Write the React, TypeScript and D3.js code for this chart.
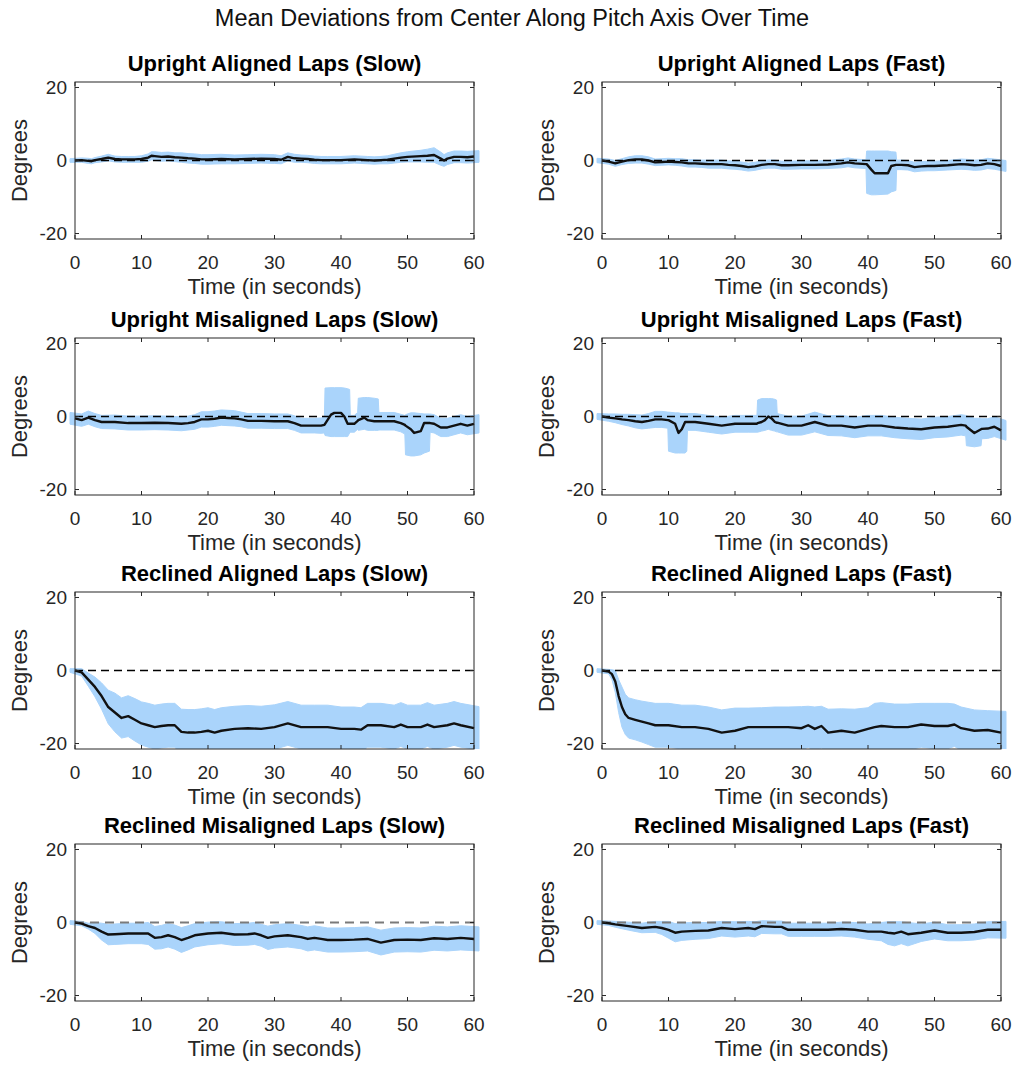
import React from "react";
import * as d3 from "d3";

// [time (s), mean (deg), band low (deg), band high (deg)]
const uprightAlignedSlow = [
  [0, 0, -0.5, 0.5], [1, 0.1, -0.5, 0.7], [2, -0.1, -0.8, 0.6], [2.5, -0.2, -0.9, 0.5], [3, 0.1, -0.6, 0.8],
  [4, 0.4, -0.4, 1.2], [5, 0.8, -0.1, 1.7], [6, 0.4, -0.4, 1.2], [7, 0.3, -0.5, 1.1], [8, 0.3, -0.5, 1.1],
  [9, 0.3, -0.5, 1.1], [10, 0.4, -0.5, 1.3], [11, 0.8, -0.2, 1.8], [11.5, 1.3, 0.2, 2.4], [12, 1.2, 0, 2.4],
  [13, 1.0, -0.2, 2.2], [14, 1.1, -0.1, 2.3], [15, 0.9, -0.3, 2.1], [16, 0.8, -0.5, 2.1], [17, 0.6, -0.7, 1.9],
  [18, 0.5, -0.8, 1.8], [19, 0.3, -1.0, 1.6], [20, 0.3, -1.0, 1.6], [22, 0.4, -0.9, 1.7], [24, 0.3, -0.9, 1.5],
  [26, 0.4, -0.8, 1.6], [28, 0.5, -0.7, 1.7], [30, 0.4, -0.8, 1.6], [31, 0.2, -0.9, 1.3], [32, 1.0, -0.1, 2.1],
  [33, 0.6, -0.5, 1.7], [34, 0.5, -0.5, 1.5], [35, 0.4, -0.6, 1.4], [36, 0.2, -0.8, 1.2], [37, 0.1, -0.9, 1.1],
  [38, 0.1, -0.9, 1.1], [40, 0.1, -0.9, 1.1], [42, 0.3, -0.7, 1.3], [44, 0.1, -0.9, 1.1], [45, 0, -1.0, 1.0],
  [46, 0.1, -0.9, 1.1], [47, 0.2, -0.9, 1.3], [48, 0.5, -0.7, 1.7], [49, 0.8, -0.5, 2.1], [50, 1.0, -0.4, 2.4],
  [52, 1.2, -0.4, 2.8], [53, 1.3, -0.5, 3.1], [54, 1.5, -0.5, 3.5], [55, 0.5, -1.3, 2.3], [55.5, 0, -1.6, 1.6],
  [56, 0.5, -1.1, 2.1], [57, 1.0, -0.6, 2.6], [58, 1.0, -0.6, 2.6], [59, 0.9, -0.7, 2.5], [60, 1.1, -0.5, 2.7],
];

const uprightAlignedFast = [
  [0, 0, -0.6, 0.6], [1, -0.3, -1.0, 0.4], [2, -0.8, -1.6, 0], [3, -0.3, -1.1, 0.5], [4, 0.1, -0.8, 1.0],
  [5, 0.3, -0.7, 1.3], [6, 0.3, -0.7, 1.3], [7, 0, -1.0, 1.0], [8, -0.5, -1.4, 0.4], [9, -0.4, -1.3, 0.5],
  [10, -0.3, -1.2, 0.6], [11, -0.4, -1.3, 0.5], [12, -0.5, -1.5, 0.5], [13, -0.8, -1.8, 0.2], [14, -0.8, -1.8, 0.2],
  [15, -0.9, -1.9, 0.1], [16, -1.0, -2.1, 0.1], [18, -1.0, -2.1, 0.1], [19, -1.2, -2.3, -0.1], [20, -1.3, -2.4, -0.2],
  [21, -1.5, -2.6, -0.4], [22, -1.8, -2.9, -0.7], [23, -1.6, -2.7, -0.5], [24, -1.2, -2.3, -0.1], [25, -1.0, -2.1, 0.1],
  [26, -1.0, -2.1, 0.1], [27, -1.3, -2.4, -0.2], [28, -1.3, -2.4, -0.2], [30, -1.2, -2.3, -0.1], [32, -1.2, -2.3, -0.1],
  [34, -1.1, -2.2, 0], [36, -0.8, -2.0, 0.4], [37, -0.5, -1.7, 0.7], [38, -0.8, -2.0, 0.4], [39.7, -1.0, -2.2, 0.2],
  [39.8, -1.0, -9.0, 2.6], [40.5, -2.5, -9.4, 2.6], [41, -3.5, -9.4, 2.6], [43, -3.5, -9.2, 2.6], [43.5, -1.5, -8.6, 2.4],
  [44.2, -1.2, -8.2, 2.3], [44.3, -1.2, -2.5, 0.1], [45, -1.2, -2.5, 0.1], [46, -1.3, -2.6, 0], [47, -1.8, -3.1, -0.5],
  [48, -1.6, -2.9, -0.3], [49, -1.5, -2.8, -0.2], [50, -1.5, -2.8, -0.2], [52, -1.3, -2.6, 0], [54, -1.0, -2.4, 0.4],
  [55, -1.1, -2.5, 0.3], [56, -1.3, -2.7, 0.1], [57, -1.2, -2.6, 0.2], [58, -0.8, -2.2, 0.6], [59, -1.0, -2.4, 0.4],
  [60, -1.5, -3.0, 0],
];

const uprightMisalignedSlow = [
  [0, -0.5, -2.1, 1.1], [1, -1.0, -2.7, 0.7], [2, -0.3, -2.1, 1.5], [3, -1.0, -2.8, 0.8], [4, -1.5, -3.3, 0.3],
  [6, -1.5, -3.4, 0.4], [8, -1.8, -3.7, 0.1], [10, -1.8, -3.7, 0.1], [12, -1.7, -3.6, 0.2], [14, -1.8, -3.7, 0.1],
  [16, -2.0, -3.9, -0.1], [17, -1.8, -3.7, 0.1], [18, -1.5, -3.5, 0.5], [19, -0.8, -2.9, 1.3], [20, -0.8, -2.9, 1.3],
  [21, -0.6, -2.7, 1.5], [22, -0.3, -2.4, 1.8], [23, -0.4, -2.5, 1.7], [24, -0.5, -2.6, 1.6], [25, -0.8, -2.8, 1.2],
  [26, -1.2, -3.2, 0.8], [28, -1.2, -3.2, 0.8], [30, -1.3, -3.3, 0.7], [32, -1.3, -3.3, 0.7], [33, -1.8, -3.8, 0.2],
  [34, -2.5, -4.5, -0.5], [36, -2.5, -4.5, -0.5], [37, -2.5, -4.6, -0.4], [37.5, -2.3, -4.5, -0.2],
  [37.6, -2.0, -5.2, 7.8], [38.5, 0.5, -5.5, 7.9], [39, 1.0, -5.5, 7.9], [40, 1.0, -5.5, 7.9], [40.5, 0, -5.5, 7.8],
  [41, -2.0, -5.5, 7.6], [41.3, -2.0, -4.5, 7.4], [41.4, -2.0, -4.3, 0.3], [42, -2.0, -4.3, 0.3], [42.5, -1.2, -3.5, 1.1],
  [42.6, -1.0, -3.8, 5.0], [43.5, -0.3, -3.5, 5.2], [44, -1.0, -3.8, 5.2], [45, -1.3, -3.8, 5.0], [45.6, -1.3, -3.8, 4.8],
  [45.7, -1.3, -3.7, 1.1], [46, -1.3, -3.7, 1.1], [48, -1.3, -3.7, 1.1], [49, -1.8, -4.2, 0.6], [49.6, -2.3, -4.8, 0.3],
  [49.7, -2.5, -10.5, 0.5], [50.5, -3.5, -10.8, 1.0], [51, -4.5, -10.8, 1.0], [52, -4.0, -10.5, 0.8],
  [52.5, -1.8, -10.0, 0.7], [53.3, -1.8, -9.5, 0.7], [53.4, -1.8, -4.3, 0.7], [54, -2.0, -4.5, 0.5],
  [55, -3.0, -5.5, -0.5], [56, -3.0, -5.5, -0.5], [57, -2.5, -5.0, 0], [58, -2.0, -4.5, 0.5], [59, -2.5, -5.0, 0],
  [60, -2.0, -4.5, 0.5],
];

const uprightMisalignedFast = [
  [0, 0, -0.8, 0.8], [1, -0.3, -1.3, 0.7], [2, -0.5, -1.7, 0.7], [3, -0.8, -2.2, 0.6], [4, -1.0, -2.6, 0.6],
  [5, -1.3, -3.1, 0.5], [6, -1.5, -3.4, 0.4], [7, -1.2, -3.2, 0.8], [8, -0.8, -3.0, 1.4], [9, -0.8, -3.0, 1.4],
  [9.9, -1.0, -3.2, 1.2], [10, -1.0, -9.5, 1.2], [11, -2.0, -10.0, 1.0], [11.5, -4.5, -10.0, 1.0], [12, -3.5, -10.0, 0.8],
  [12.5, -1.5, -10.0, 0.8], [12.75, -1.5, -9.5, 0.8], [12.85, -1.5, -3.8, 0.8], [14, -1.5, -3.8, 0.8],
  [16, -2.0, -4.3, 0.3], [18, -2.5, -4.8, -0.2], [20, -2.0, -4.3, 0.3], [22, -2.0, -4.3, 0.3], [23.3, -2.0, -4.3, 0.3],
  [23.4, -1.8, -4.3, 4.5], [24, -1.5, -4.0, 4.9], [24.5, -1.0, -3.8, 4.9], [25, 0, -3.5, 4.9], [25.5, -0.5, -3.8, 4.9],
  [26, -1.5, -4.0, 4.7], [26.25, -1.7, -4.2, 4.5], [26.35, -1.7, -4.2, 0.8], [28, -2.5, -5.1, 0.1], [30, -2.5, -5.1, 0.1],
  [32, -1.5, -4.2, 1.2], [34, -2.5, -5.2, 0.2], [36, -2.5, -5.3, 0.3], [38, -3.0, -5.8, -0.2], [40, -2.5, -5.3, 0.3],
  [42, -2.5, -5.3, 0.3], [44, -3.0, -5.8, -0.2], [46, -3.3, -6.1, -0.5], [48, -3.5, -6.3, -0.7], [50, -3.0, -5.8, -0.2],
  [52, -2.8, -5.6, 0], [54, -2.3, -5.1, 0.5], [54.7, -2.5, -5.3, 0.3], [54.8, -2.8, -8.0, 0.2], [56, -4.5, -8.3, -0.5],
  [57, -3.5, -8.0, -0.5], [57.1, -3.4, -6.1, -0.6], [58, -3.3, -6.0, -0.6], [59, -2.8, -5.5, -0.1], [60, -3.8, -6.5, -1.1],
];

const reclinedAlignedSlow = [
  [0, 0, -0.5, 0.5], [1, -0.5, -1.5, 0.5], [2, -2.5, -4.3, -0.7], [3, -4.5, -7.2, -1.8], [4, -7.0, -10.6, -3.4],
  [5, -10.0, -14.6, -5.4], [6, -11.5, -16.8, -6.2], [7, -13.0, -18.5, -7.5], [8, -12.5, -18.1, -6.9],
  [9, -13.5, -19.3, -7.7], [10, -14.5, -20.4, -8.6], [11, -15.0, -21.0, -9.0], [12, -15.5, -21.5, -9.5],
  [13, -15.2, -21.2, -9.2], [14, -15.0, -21.0, -9.0], [15, -15.0, -21.0, -9.0], [16, -16.8, -23.0, -10.6],
  [17, -17.0, -23.3, -10.7], [18, -17.0, -23.3, -10.7], [19, -16.8, -23.1, -10.5], [20, -16.5, -22.8, -10.2],
  [21, -17.0, -23.3, -10.7], [22, -16.5, -22.8, -10.2], [24, -16.0, -22.2, -9.8], [26, -15.8, -22.0, -9.6],
  [28, -16.0, -22.2, -9.8], [30, -15.5, -21.6, -9.4], [32, -14.5, -20.5, -8.5], [34, -15.5, -21.5, -9.5],
  [36, -15.5, -21.5, -9.5], [38, -15.5, -21.5, -9.5], [40, -16.0, -22.0, -10.0], [42, -16.0, -22.0, -10.0],
  [43, -16.2, -22.2, -10.2], [44, -15.0, -21.0, -9.0], [46, -15.0, -21.0, -9.0], [48, -15.5, -21.5, -9.5],
  [49, -14.8, -20.8, -8.8], [50, -15.5, -21.5, -9.5], [52, -15.5, -21.5, -9.5], [53, -14.8, -20.8, -8.8],
  [54, -15.5, -21.5, -9.5], [56, -15.0, -21.0, -9.0], [57, -14.5, -20.5, -8.5], [58, -15.0, -21.0, -9.0],
  [60, -15.8, -21.7, -9.9],
];

const reclinedAlignedFast = [
  [0, 0, -0.5, 0.5], [1, -0.3, -0.9, 0.3], [1.5, -1.0, -2.5, 0.2], [2, -3.0, -6.0, 0], [2.5, -7.0, -11.5, -2.5],
  [3, -10.0, -15.5, -4.5], [3.5, -12.0, -17.5, -6.5], [4, -13.0, -18.5, -7.5], [5, -13.5, -19.0, -8.0],
  [6, -14.0, -19.6, -8.4], [7, -14.5, -20.3, -8.7], [8, -15.0, -21.0, -9.0], [10, -15.0, -21.0, -9.0],
  [12, -15.5, -21.5, -9.5], [14, -15.5, -21.5, -9.5], [16, -16.0, -22.0, -10.0], [18, -17.0, -23.2, -10.8],
  [20, -16.5, -22.7, -10.3], [22, -15.5, -21.7, -10.3], [24, -15.5, -21.5, -10.2], [26, -15.5, -21.5, -10.0],
  [28, -15.5, -21.5, -10.0], [30, -15.8, -21.8, -9.9], [31, -15.0, -21.0, -9.8], [32, -16.0, -22.0, -10.0],
  [33, -15.2, -21.2, -9.8], [34, -17.0, -23.2, -10.6], [36, -16.5, -22.7, -10.5], [38, -17.0, -23.2, -10.6],
  [40, -16.0, -22.0, -10.2], [41, -15.5, -22.0, -9.0], [42, -15.2, -21.7, -8.8], [44, -15.5, -21.8, -9.2],
  [46, -15.5, -21.8, -9.2], [48, -14.8, -21.0, -9.0], [50, -15.2, -21.4, -9.0], [52, -15.2, -21.4, -9.0],
  [53, -14.8, -20.8, -9.2], [54, -15.8, -21.8, -10.0], [56, -16.5, -22.5, -10.8], [58, -16.3, -22.3, -11.0],
  [60, -17.0, -23.0, -11.2],
];

const reclinedMisalignedSlow = [
  [0, 0, -0.5, 0.5], [1, -0.3, -0.9, 0.3], [2, -1.0, -1.8, -0.2], [3, -1.5, -3.0, 0], [4, -2.5, -4.8, -0.2],
  [5, -3.3, -6.1, -0.5], [6, -3.2, -6.0, -0.4], [8, -3.0, -5.8, -0.2], [10, -3.0, -5.8, -0.2], [11, -3.0, -6.0, 0],
  [12, -4.2, -7.3, -1.1], [13, -4.0, -7.2, -0.8], [14, -3.5, -6.7, -0.3], [15, -4.0, -7.3, -0.7], [16, -4.8, -8.2, -1.4],
  [17, -4.2, -7.5, -0.9], [18, -3.5, -6.7, -0.3], [20, -3.0, -6.1, 0.1], [22, -2.8, -5.8, 0.2], [24, -3.3, -6.3, -0.3],
  [26, -3.2, -6.2, -0.2], [27, -3.0, -6.0, 0], [28, -3.5, -6.5, -0.5], [29, -4.2, -7.4, -1.0], [30, -3.8, -7.0, -0.6],
  [32, -3.5, -6.7, -0.3], [34, -4.0, -7.2, -0.8], [35, -4.5, -7.8, -1.2], [36, -4.2, -7.5, -0.9], [37, -4.5, -7.8, -1.2],
  [38, -4.8, -8.1, -1.5], [40, -4.8, -8.1, -1.5], [42, -4.7, -8.0, -1.4], [44, -4.5, -7.8, -1.2], [46, -5.5, -8.9, -2.1],
  [48, -4.8, -8.1, -1.5], [50, -4.7, -8.0, -1.4], [52, -4.8, -8.1, -1.5], [54, -4.3, -7.6, -1.0], [56, -4.5, -7.8, -1.2],
  [58, -4.2, -7.5, -0.9], [60, -4.5, -7.8, -1.2],
];

const reclinedMisalignedFast = [
  [0, 0, -0.5, 0.5], [1, -0.2, -0.8, 0.4], [2, -0.5, -1.3, 0.3], [4, -1.0, -2.1, 0.1], [6, -1.5, -2.8, -0.2],
  [8, -1.2, -2.7, 0.3], [9, -1.5, -3.3, 0.3], [10, -2.0, -4.3, 0.3], [11, -2.8, -5.3, -0.3], [12, -2.5, -4.9, -0.1],
  [14, -2.3, -4.6, 0], [16, -2.2, -4.4, 0], [18, -1.5, -3.7, 0.3], [20, -1.8, -4.0, 0.2], [22, -1.5, -3.7, 0.3],
  [23, -1.8, -3.9, 0.2], [24, -1.0, -3.0, 0.5], [26, -1.2, -3.1, 0.4], [27, -1.2, -3.1, 0.4], [28, -2.0, -3.8, -0.2],
  [30, -2.0, -3.8, -0.2], [32, -2.0, -3.8, -0.2], [34, -2.0, -3.8, -0.2], [36, -1.8, -3.7, 0.1], [38, -2.0, -4.0, 0],
  [40, -2.5, -4.6, -0.4], [42, -2.5, -5.0, 0], [43, -2.8, -6.0, 0.2], [44, -3.0, -6.4, 0.2], [45, -2.5, -5.8, 0.2],
  [46, -3.2, -6.4, 0], [47, -3.0, -5.8, -0.2], [48, -2.8, -5.2, -0.4], [50, -2.2, -4.5, 0.1], [52, -2.8, -5.0, -0.6],
  [54, -2.8, -5.0, -0.6], [56, -2.6, -4.8, -0.4], [58, -2.0, -4.2, 0.2], [60, -2.0, -4.3, 0.3],
];

const panelTitles = [
  "Upright Aligned Laps (Slow)", "Upright Aligned Laps (Fast)",
  "Upright Misaligned Laps (Slow)", "Upright Misaligned Laps (Fast)",
  "Reclined Aligned Laps (Slow)", "Reclined Aligned Laps (Fast)",
  "Reclined Misaligned Laps (Slow)", "Reclined Misaligned Laps (Fast)",
];
const panelData = [
  uprightAlignedSlow, uprightAlignedFast,
  uprightMisalignedSlow, uprightMisalignedFast,
  reclinedAlignedSlow, reclinedAlignedFast,
  reclinedMisalignedSlow, reclinedMisalignedFast,
];
const xTicks = [0, 10, 20, 30, 40, 50, 60];
const yTicks = [-20, 0, 20];

const W = 1016;
const H = 1066;
const colX = [75, 602];
const rowY = [82, 338, 592, 844];
const pw = 399;
const ph = 157;
const FONT = "'Liberation Sans', Arial, Helvetica, sans-serif";
const AX = "#262626";
const BAND = "#aad4fb";

function Panel({ idx }) {
  const data = panelData[idx];
  const x0 = colX[idx % 2];
  const y0 = rowY[Math.floor(idx / 2)];
  const bottomRow = idx >= 6;

  const x = d3.scaleLinear().domain([0, 60]).range([x0, x0 + pw]);
  const y = d3.scaleLinear().domain([-21.5, 21.5]).range([y0 + ph, y0]);
  // error-bar caps stick out a little past the first and last sample
  const cap = 5;
  const n = data.length;
  const bx = (d, i) => x(d[0]) + (i === 0 ? -cap : i === n - 1 ? cap : 0);

  const band = d3.area().x(bx).y0(d => y(d[2])).y1(d => y(d[3]));
  const mean = d3.line().x(d => x(d[0])).y(d => y(d[1]));
  const clipId = `clip${idx}`;
  const cx = x0 + pw / 2;

  return (
    <g>
      <defs>
        <clipPath id={clipId}>
          <rect x={x0 - 8} y={y0} width={pw + 16} height={ph} />
        </clipPath>
      </defs>
      <text x={cx} y={y0 - 11} textAnchor="middle" fontSize={22} fontWeight="bold" fill="#000">
        {panelTitles[idx]}
      </text>
      <rect x={x0} y={y0} width={pw} height={ph} fill="#fff" />
      <g clipPath={`url(#${clipId})`}>
        <path d={band(data)} fill={BAND} stroke={BAND} strokeWidth={1} />
        <line x1={x(0)} x2={x(60)} y1={y(0)} y2={y(0)}
          stroke={bottomRow ? "#7a7a7a" : "#000"} strokeWidth={bottomRow ? 2 : 1.3}
          strokeDasharray={bottomRow ? "9,6" : "8,5"} />
        <path d={mean(data)} fill="none" stroke="#111" strokeWidth={2.4} strokeLinejoin="round" />
      </g>
      <rect x={x0} y={y0} width={pw} height={ph} fill="none" stroke={AX} strokeWidth={1} />
      {xTicks.map(t => (
        <g key={"x" + t}>
          <line x1={x(t)} x2={x(t)} y1={y0 + ph} y2={y0 + ph - 4} stroke={AX} />
          <line x1={x(t)} x2={x(t)} y1={y0} y2={y0 + 4} stroke={AX} />
          <text x={x(t)} y={y0 + ph + 30} textAnchor="middle" fontSize={19} fill={AX}>{t}</text>
        </g>
      ))}
      {yTicks.map(t => (
        <g key={"y" + t}>
          <line x1={x0} x2={x0 + 4} y1={y(t)} y2={y(t)} stroke={AX} />
          <line x1={x0 + pw} x2={x0 + pw - 4} y1={y(t)} y2={y(t)} stroke={AX} />
          <text x={x0 - 8} y={y(t)} dy="0.35em" textAnchor="end" fontSize={19} fill={AX}>{t}</text>
        </g>
      ))}
      <text x={cx} y={y0 + ph + 55} textAnchor="middle" fontSize={22} fill={AX}>Time (in seconds)</text>
      <text transform={`translate(${x0 - 48},${y0 + ph / 2}) rotate(-90)`} textAnchor="middle"
        fontSize={22} fill={AX}>Degrees</text>
    </g>
  );
}

export default function App() {
  return (
    <svg width={W} height={H} style={{ position: "absolute", left: 0, top: 0, background: "#fff" }}
      fontFamily={FONT}>
      <rect width={W} height={H} fill="#fff" />
      <text x={512} y={26} textAnchor="middle" fontSize={23.5} fill="#111">
        Mean Deviations from Center Along Pitch Axis Over Time
      </text>
      {panelData.map((_, i) => <Panel key={i} idx={i} />)}
    </svg>
  );
}
